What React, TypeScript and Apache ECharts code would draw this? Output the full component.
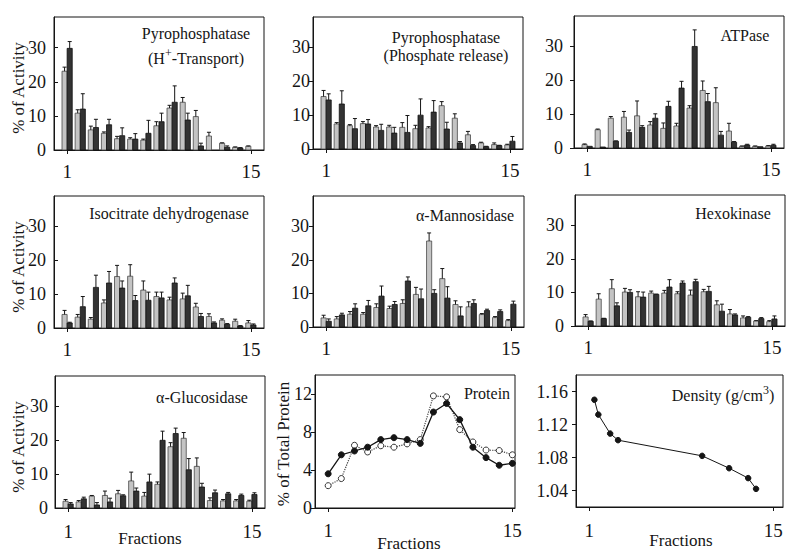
import React, { useEffect, useRef } from "react";
import * as echarts from "echarts";

const FONT = '"Liberation Serif", "Times New Roman", serif';
const INK = "#151515";
const LIGHT_FILL = "#c4c4c4";
const DARK_FILL = "#333333";

const fractions = [1, 2, 3, 4, 5, 6, 7, 8, 9, 10, 11, 12, 13, 14, 15];
const barTickValues = [0, 10, 20, 30];
const fractionTicks = [1, 15];

// Pyrophosphatase (H+-Transport)
const pyroHLight = [23.1, 10.8, 5.9, 4.9, 3.3, 3.2, 2.9, 7.1, 12.3, 14.0, 9.8, 4.1, 2.0, 0.8, 1.1];
const pyroHLightSd = [1.2, 1.0, 1.1, 0.4, 0.7, 0.4, 0.3, 1.2, 0.8, 1.4, 1.8, 1.1, 0.1, 0.1, 0.1];
const pyroHDark = [29.8, 12.0, 6.6, 7.4, 4.2, 3.2, 4.9, 8.3, 14.0, 8.8, 1.2, 0, 0.8, 0.6, 0];
const pyroHDarkSd = [2.0, 4.5, 2.4, 1.6, 2.3, 1.6, 3.8, 2.5, 4.8, 2.0, 0.8, 0, 0.4, 0.1, 0];

// Pyrophosphatase (Phosphate release)
const pyroPLight = [15.5, 7.4, 6.9, 7.5, 6.5, 6.5, 6.4, 6.0, 6.2, 12.8, 9.1, 4.2, 1.8, 1.3, 1.2];
const pyroPLightSd = [1.8, 0.4, 0.3, 0.6, 0.4, 0.5, 1.4, 1.0, 0.4, 1.2, 1.3, 1.0, 0.2, 0.5, 0.2];
const pyroPDark = [14.5, 13.3, 6.0, 7.4, 5.5, 4.7, 4.9, 10.0, 10.9, 5.9, 1.8, 1.0, 0.7, 1.0, 2.3];
const pyroPDarkSd = [1.8, 3.9, 3.0, 1.3, 1.8, 1.7, 5.0, 4.8, 3.4, 2.0, 0.4, 0.3, 0.1, 0.1, 1.4];

// ATPase
const atpLight = [1.0, 5.4, 8.8, 9.1, 9.5, 6.8, 5.8, 6.5, 11.8, 17.0, 13.4, 5.0, 0.5, 0.5, 0.6];
const atpLightSd = [0.2, 0.2, 0.5, 1.7, 4.4, 1.0, 1.6, 0.8, 0.7, 2.8, 4.4, 2.3, 0.1, 0.1, 0.1];
const atpDark = [0.5, 0.3, 2.0, 4.6, 6.1, 8.8, 12.3, 17.7, 30.0, 13.7, 3.8, 1.7, 0.9, 0.4, 0.8];
const atpDarkSd = [0, 0, 0.1, 0.7, 0.5, 1.3, 1.5, 2.0, 4.9, 2.4, 1.1, 0.2, 0.2, 0, 0.3];

// Isocitrate dehydrogenase
const icdLight = [4.0, 3.2, 2.6, 7.4, 15.2, 15.3, 11.2, 9.3, 8.3, 8.6, 6.2, 3.4, 2.3, 2.0, 1.5];
const icdLightSd = [1.2, 0.8, 0.5, 0.9, 3.3, 3.4, 2.7, 1.3, 0.8, 1.7, 1.1, 0.8, 0.4, 0.6, 0.7];
const icdDark = [1.5, 6.3, 12.0, 13.3, 11.8, 8.1, 8.2, 8.9, 13.3, 9.5, 3.4, 1.5, 1.1, 0.6, 0.9];
const icdDarkSd = [0.2, 3.0, 3.6, 3.4, 2.1, 1.5, 2.4, 1.7, 1.5, 3.1, 0.9, 0.3, 0.2, 0.1, 0.3];

// alpha-Mannosidase
const manLight = [2.7, 2.4, 3.8, 3.8, 5.8, 5.5, 7.0, 9.7, 25.6, 14.4, 6.7, 6.0, 3.7, 2.8, 1.9];
const manLightSd = [0.8, 0.7, 0.8, 0.5, 1.1, 0.7, 1.1, 2.1, 2.4, 3.0, 1.1, 1.5, 0.3, 0.3, 0.3];
const manDark = [1.7, 3.6, 5.6, 6.3, 9.2, 6.7, 13.7, 8.4, 10.0, 8.6, 3.3, 7.0, 4.9, 4.6, 6.8];
const manDarkSd = [0.7, 0.5, 1.3, 1.6, 3.0, 0.9, 1.2, 2.9, 1.1, 3.4, 2.7, 1.1, 0.4, 0.5, 0.9];

// Hexokinase
const hexLight = [2.7, 8.0, 11.1, 10.1, 8.7, 9.8, 9.8, 9.6, 9.2, 10.2, 6.3, 3.6, 2.4, 1.5, 1.3];
const hexLightSd = [0.7, 1.6, 2.7, 1.1, 1.5, 0.6, 0.8, 0.6, 1.5, 0.7, 1.2, 1.3, 0.6, 0.1, 0.3];
const hexDark = [1.4, 2.2, 6.0, 10.0, 8.6, 9.4, 11.6, 12.8, 13.2, 10.3, 4.4, 3.3, 2.6, 2.2, 2.1];
const hexDarkSd = [0.1, 0.1, 0.9, 0.8, 1.5, 0.1, 2.2, 0.6, 0.7, 1.5, 2.1, 0.3, 0.2, 0.3, 0.9];

// alpha-Glucosidase
const glcLight = [2.0, 1.8, 3.5, 3.7, 4.2, 8.0, 3.5, 7.0, 18.1, 20.6, 12.3, 2.2, 2.1, 2.1, 2.0];
const glcLightSd = [0.5, 0.4, 0.2, 1.3, 1.0, 2.6, 1.1, 0.7, 1.2, 1.7, 2.5, 0.8, 0.4, 0.4, 0.3];
const glcDark = [1.2, 2.7, 0.9, 1.8, 3.6, 5.0, 7.7, 20.0, 22.0, 11.3, 6.2, 4.5, 4.2, 3.7, 4.0];
const glcDarkSd = [0.4, 0.5, 0.7, 1.1, 0.3, 0.9, 2.3, 2.7, 1.6, 3.3, 1.1, 0.8, 0.4, 0.4, 0.5];

// Protein (% of total protein)
const proteinFilled = [3.6, 5.6, 6.0, 6.4, 7.2, 7.4, 7.2, 6.8, 10.1, 11.0, 9.3, 6.4, 5.3, 4.5, 4.7];
const proteinOpen = [2.35, 3.1, 6.6, 5.9, 6.55, 6.4, 6.75, 7.2, 11.8, 11.7, 8.25, 6.95, 6.1, 6.05, 5.6];
const proteinTicks = [0, 4, 8, 12];

// Density (g/cm3)
const densityFraction = [1.4, 1.7, 2.6, 3.2, 9.6, 11.65, 13.1, 13.7];
const densityValue = [1.15, 1.132, 1.109, 1.101, 1.082, 1.067, 1.055, 1.042];
const densityTicks = [1.04, 1.08, 1.12, 1.16];

type Panel = {
  light: number[];
  lightSd: number[];
  dark: number[];
  darkSd: number[];
};

const barPanels: Panel[] = [
  { light: pyroHLight, lightSd: pyroHLightSd, dark: pyroHDark, darkSd: pyroHDarkSd },
  { light: pyroPLight, lightSd: pyroPLightSd, dark: pyroPDark, darkSd: pyroPDarkSd },
  { light: atpLight, lightSd: atpLightSd, dark: atpDark, darkSd: atpDarkSd },
  { light: icdLight, lightSd: icdLightSd, dark: icdDark, darkSd: icdDarkSd },
  { light: manLight, lightSd: manLightSd, dark: manDark, darkSd: manDarkSd },
  { light: hexLight, lightSd: hexLightSd, dark: hexDark, darkSd: hexDarkSd },
  { light: glcLight, lightSd: glcLightSd, dark: glcDark, darkSd: glcDarkSd },
];

// layout (grid boxes)
const grids = [
  { left: 54, top: 17, width: 210, height: 133 },
  { left: 313, top: 17, width: 210, height: 132 },
  { left: 574, top: 16, width: 210, height: 132 },
  { left: 54, top: 196, width: 210, height: 132 },
  { left: 313, top: 196, width: 211, height: 131 },
  { left: 575, top: 195, width: 210, height: 131 },
  { left: 55, top: 376, width: 210, height: 132 },
  { left: 315, top: 375, width: 200, height: 133 },
  { left: 576, top: 375, width: 207, height: 132 },
];

const yLabelMargins = [8, 3, 11, 8, 4, 11, 7, 3, 8];
const yTicksInside = [true, false, false, true, false, false, true, false, false];
const xLabelMargins = [12, 12, 12, 12, 12, 12, 14, 13, 14];

function barRenderer(side: number, fill: string, stroke: string) {
  return (params: any, api: any) => {
    const x = api.value(0);
    const y = api.value(1);
    const e = api.value(2);
    const base = api.coord([x, 0]);
    const top = api.coord([x, y]);
    const errP = api.coord([x, e]);
    const w = api.size([0.39, 0])[0];
    const x0 = side < 0 ? base[0] - w : base[0];
    const cx = x0 + w / 2;
    const children: any[] = [];
    if (y > 0) {
      children.push({
        type: "rect",
        shape: { x: x0, y: top[1], width: w, height: base[1] - top[1] },
        style: { fill, stroke, lineWidth: 0.8 },
      });
    }
    if (e > y + 0.05) {
      children.push({
        type: "line",
        shape: { x1: cx, y1: top[1], x2: cx, y2: errP[1] },
        style: { stroke: INK, lineWidth: 1 },
      });
      children.push({
        type: "line",
        shape: { x1: cx - 2, y1: errP[1], x2: cx + 2, y2: errP[1] },
        style: { stroke: INK, lineWidth: 1 },
      });
    }
    return { type: "group", children };
  };
}

function textEl(text: string, x: number, y: number, size: number, rotation = 0, rich?: any) {
  return {
    type: "text",
    x,
    y,
    rotation,
    z: 10,
    style: {
      text,
      fill: INK,
      font: `${size}px ${FONT}`,
      fontSize: size,
      fontFamily: FONT,
      align: "center",
      verticalAlign: "middle",
      textAlign: "center",
      textVerticalAlign: "middle",
      rich,
    },
  };
}

export default function App() {
  const ref = useRef<HTMLDivElement>(null);

  useEffect(() => {
    if (!ref.current) return;
    const chart = echarts.init(ref.current, undefined, { renderer: "svg" });

    const axisLine = { show: true, onZero: false, lineStyle: { color: INK, width: 1 } };

    const xAxis = grids.map((g, i) => ({
      type: "value",
      gridIndex: i,
      min: 0,
      max: i === 7 ? 15.2 : i === 8 ? 15.75 : 16,
      axisLine,
      axisTick: { show: true, customValues: fractionTicks, length: 4, lineStyle: { color: INK } },
      axisLabel: {
        customValues: fractionTicks,
        margin: xLabelMargins[i],
        fontSize: 19,
        fontFamily: FONT,
        color: INK,
      },
      splitLine: { show: false },
    }));

    const yAxis = grids.map((g, i) => {
      const isProtein = i === 7;
      const isDensity = i === 8;
      const ticks = isProtein ? proteinTicks : isDensity ? densityTicks : barTickValues;
      return {
        type: "value",
        gridIndex: i,
        min: isProtein ? 0 : isDensity ? 1.02 : 0,
        max: isProtein ? 14 : isDensity ? 1.18 : 39,
        axisLine,
        axisTick: {
          show: true,
          inside: yTicksInside[i],
          length: 4,
          customValues: ticks,
          lineStyle: { color: INK },
        },
        axisLabel: {
          customValues: ticks,
          margin: yLabelMargins[i],
          fontSize: 18,
          fontFamily: FONT,
          color: INK,
          formatter: (v: number) => (isDensity ? v.toFixed(2) : String(Math.round(v))),
        },
        splitLine: { show: false },
      };
    });

    const series: any[] = [];
    barPanels.forEach((p, i) => {
      series.push({
        type: "custom",
        xAxisIndex: i,
        yAxisIndex: i,
        renderItem: barRenderer(-1, LIGHT_FILL, "#4a4a4a"),
        encode: { x: 0, y: [1, 2] },
        data: fractions.map((f, k) => [f, p.light[k], p.light[k] + p.lightSd[k]]),
      });
      series.push({
        type: "custom",
        xAxisIndex: i,
        yAxisIndex: i,
        renderItem: barRenderer(1, DARK_FILL, "#111111"),
        encode: { x: 0, y: [1, 2] },
        data: fractions.map((f, k) => [f, p.dark[k], p.dark[k] + p.darkSd[k]]),
      });
    });

    series.push({
      type: "line",
      xAxisIndex: 7,
      yAxisIndex: 7,
      data: fractions.map((f, k) => [f, proteinOpen[k]]),
      symbol: "circle",
      symbolSize: 6,
      itemStyle: { color: "#ffffff", borderColor: "#333", borderWidth: 1 },
      lineStyle: { color: "#444", width: 1.2, type: "dotted" },
      z: 2,
    });
    series.push({
      type: "line",
      xAxisIndex: 7,
      yAxisIndex: 7,
      data: fractions.map((f, k) => [f, proteinFilled[k]]),
      symbol: "circle",
      symbolSize: 6,
      itemStyle: { color: INK, borderColor: INK, borderWidth: 1 },
      lineStyle: { color: INK, width: 1.3 },
      z: 3,
    });
    series.push({
      type: "line",
      xAxisIndex: 8,
      yAxisIndex: 8,
      data: densityFraction.map((f, k) => [f, densityValue[k]]),
      symbol: "circle",
      symbolSize: 5.5,
      itemStyle: { color: INK, borderColor: INK },
      lineStyle: { color: INK, width: 1 },
    });

    const supRich = {
      n: { fontSize: 16, fontFamily: FONT, fill: INK, color: INK, lineHeight: 22 },
      s: { fontSize: 12, fontFamily: FONT, fill: INK, color: INK, lineHeight: 12, verticalAlign: "top" },
    };

    const graphic: any[] = [
      textEl("Pyrophosphatase", 196, 33, 16),
      textEl("{n|(H}{s|+}{n|-Transport)}", 196, 58, 16, 0, supRich),
      textEl("Pyrophosphatase", 446, 37, 16),
      textEl("(Phosphate release)", 446, 55, 16),
      textEl("ATPase", 745, 35, 16),
      textEl("Isocitrate dehydrogenase", 169, 213, 16),
      textEl("α-Mannosidase", 465, 215, 16),
      textEl("Hexokinase", 733, 213, 16),
      textEl("α-Glucosidase", 202, 397, 16),
      textEl("Protein", 487, 393, 16),
      textEl("{n|Density (g/cm}{s|3}{n|)}", 723, 395, 16, 0, supRich),
      textEl("% of Activity", 18, 88, 17, Math.PI / 2),
      textEl("% of Activity", 18, 267, 17, Math.PI / 2),
      textEl("% of Activity", 18, 447, 17, Math.PI / 2),
      textEl("% of Total Protein", 283, 444, 17, Math.PI / 2),
      textEl("Fractions", 150, 538, 17),
      textEl("Fractions", 409, 543, 17),
      textEl("Fractions", 681, 540, 17),
    ];

    chart.setOption({
      animation: false,
      backgroundColor: "#ffffff",
      textStyle: { fontFamily: FONT },
      grid: grids.map((g) => ({
        ...g,
        show: true,
        borderColor: INK,
        borderWidth: 1,
        backgroundColor: "transparent",
      })),
      xAxis,
      yAxis,
      series,
      graphic,
    });

    return () => chart.dispose();
  }, []);

  return (
    <div
      ref={ref}
      style={{ position: "fixed", left: 0, top: 0, width: 800, height: 560, background: "#fff" }}
    />
  );
}
